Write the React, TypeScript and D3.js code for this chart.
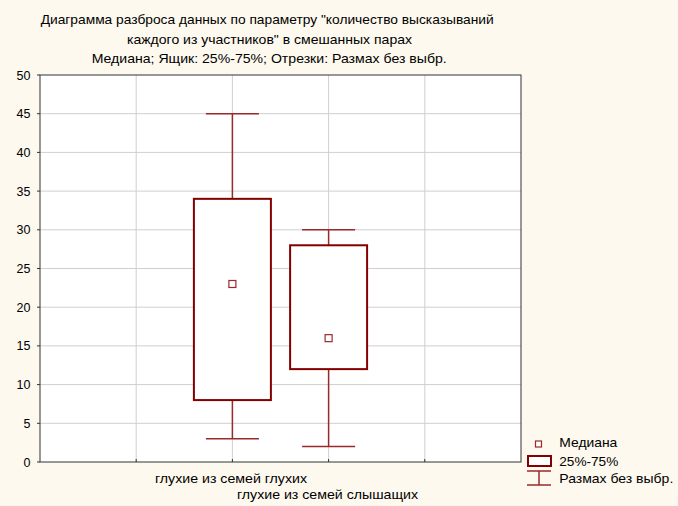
import React from "react";
import * as d3 from "d3";

const titleLines = [
  "Диаграмма разброса данных по параметру \"количество высказываний",
  "каждого из участников\" в смешанных парах",
  "Медиана; Ящик: 25%-75%; Отрезки: Размах без выбр.",
];
const categories = ["глухие из семей глухих", "глухие из семей слышащих"];
const catPositions = [2, 3];
const medians = [23, 16];
const q1 = [8, 12];
const q3 = [34, 28];
const mins = [3, 2];
const maxs = [45, 30];
const yTicks = [0, 5, 10, 15, 20, 25, 30, 35, 40, 45, 50];
const xTicks = [1, 2, 3, 4];
const legendLabels = ["Медиана", "25%-75%", "Размах без выбр."];

const W = 678;
const H = 506;
const left = 40;
const right = 521;
const top = 75;
const bottom = 462;
const DARK = "#840000";
const WHISK = "#9a2a2a";
const FONT = "Liberation Sans, Arial, sans-serif";

const titleLayout = [
  { x: 40.7, y: 24, w: 453 },
  { x: 127, y: 43.5, w: 285 },
  { x: 91.7, y: 63, w: 355 },
];
const catLayout = [
  { x: 155, y: 482.5, w: 152 },
  { x: 237, y: 498.5, w: 181 },
];
const legendLayout = [
  { y: 447.3, w: 58 },
  { y: 465.7, w: 59 },
  { y: 483.3, w: 114 },
];

export default function App() {
  const x = d3.scaleLinear().domain([0, 5]).range([left, right]);
  const y = d3.scaleLinear().domain([0, 50]).range([bottom, top]);
  const boxW = 77;
  const capW = 53;
  return (
    <svg width={W} height={H} style={{ position: "absolute", left: 0, top: 0 }} fontFamily={FONT}>
      <rect x={0} y={0} width={W} height={H} fill="#fdf9ee" />
      {titleLines.map((t, i) => (
        <text
          key={i}
          x={titleLayout[i].x}
          y={titleLayout[i].y}
          fontSize={13.5}
          textLength={titleLayout[i].w}
          lengthAdjust="spacingAndGlyphs"
          fill="#000"
        >
          {t}
        </text>
      ))}
      <rect x={left} y={top} width={right - left} height={bottom - top} fill="#fff" />
      {yTicks.slice(1, -1).map((v) => (
        <line key={v} x1={left} x2={right} y1={y(v)} y2={y(v)} stroke="#cfcfcf" strokeWidth={1} />
      ))}
      {xTicks.map((v) => (
        <line key={v} x1={x(v)} x2={x(v)} y1={top} y2={bottom} stroke="#cfcfcf" strokeWidth={1} />
      ))}
      <rect x={left} y={top} width={right - left} height={bottom - top} fill="none" stroke="#333" strokeWidth={1} />
      {yTicks.map((v) => (
        <g key={v}>
          <line x1={left - 3} x2={left} y1={y(v)} y2={y(v)} stroke="#333" />
          <text x={left - 9.5} y={y(v) + 4.5} fontSize={12.5} textAnchor="end" fill="#000">
            {v}
          </text>
        </g>
      ))}
      {xTicks.map((v) => (
        <line key={v} x1={x(v)} x2={x(v)} y1={bottom} y2={bottom - 3} stroke="#333" />
      ))}
      {categories.map((c, i) => {
        const cx = x(catPositions[i]);
        return (
          <g key={c}>
            <line x1={cx} x2={cx} y1={y(maxs[i])} y2={y(q3[i])} stroke={WHISK} strokeWidth={1.5} />
            <line x1={cx} x2={cx} y1={y(q1[i])} y2={y(mins[i])} stroke={WHISK} strokeWidth={1.5} />
            <line x1={cx - capW / 2} x2={cx + capW / 2} y1={y(maxs[i])} y2={y(maxs[i])} stroke={WHISK} strokeWidth={1.5} />
            <line x1={cx - capW / 2} x2={cx + capW / 2} y1={y(mins[i])} y2={y(mins[i])} stroke={WHISK} strokeWidth={1.5} />
            <rect
              x={cx - boxW / 2}
              y={y(q3[i])}
              width={boxW}
              height={y(q1[i]) - y(q3[i])}
              fill="#fff"
              stroke={DARK}
              strokeWidth={2}
            />
            <rect x={cx - 3.5} y={y(medians[i]) - 3.5} width={7} height={7} fill="#fff" stroke={WHISK} strokeWidth={1.2} />
            <text
              x={catLayout[i].x}
              y={catLayout[i].y}
              fontSize={13}
              textLength={catLayout[i].w}
              lengthAdjust="spacingAndGlyphs"
              fill="#000"
            >
              {c}
            </text>
          </g>
        );
      })}
      <g>
        <rect x={535.5} y={441} width={6} height={6} fill="#fff" stroke={WHISK} strokeWidth={1.2} />
        <rect x={528} y={456} width={23} height={10} fill="#fff" stroke={DARK} strokeWidth={2} />
        <line x1={527} x2={551} y1={471} y2={471} stroke={WHISK} strokeWidth={1.5} />
        <line x1={539} x2={539} y1={471} y2={485} stroke={WHISK} strokeWidth={1.5} />
        <line x1={527} x2={551} y1={485} y2={485} stroke={WHISK} strokeWidth={1.5} />
        {legendLabels.map((l, i) => (
          <text
            key={l}
            x={559.3}
            y={legendLayout[i].y}
            fontSize={13}
            textLength={legendLayout[i].w}
            lengthAdjust="spacingAndGlyphs"
            fill="#000"
          >
            {l}
          </text>
        ))}
      </g>
    </svg>
  );
}
